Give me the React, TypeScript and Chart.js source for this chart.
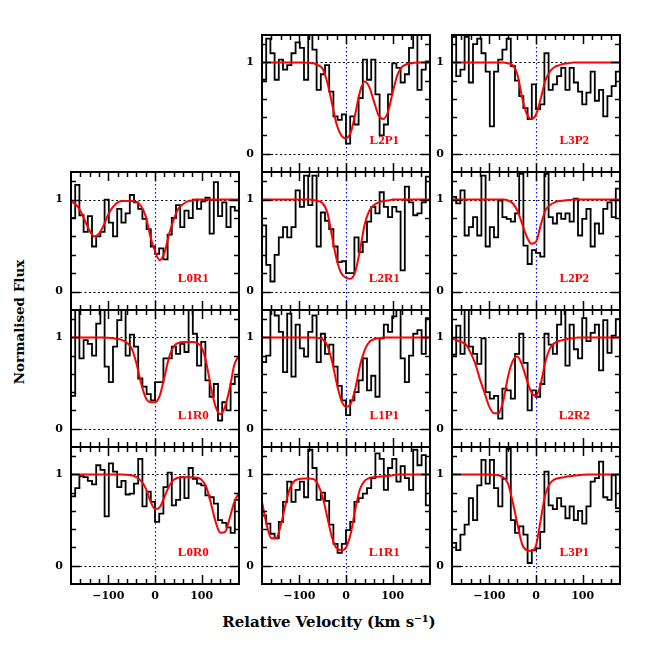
import React, { useEffect, useRef } from 'react';
import { Chart, registerables } from 'chart.js';
Chart.register(...registerables);

// ---------- axes ----------
const VELOCITY_MIN = -180;
const VELOCITY_MAX = 180;
const FLUX_MIN = -0.2;
const FLUX_MAX = 1.3;
const BIN_WIDTH = 9;
const MODEL_STEP = 10;
const X_TICK_LABELS = [-100, 0, 100];
const Y_TICK_LABELS = [0, 1];
const X_MINOR_TICKS = [-160, -140, -120, -80, -60, -40, -20, 20, 40, 60, 80, 120, 140, 160];
const Y_MINOR_TICKS = [0.2, 0.4, 0.6, 0.8, 1.2];
const REFERENCE_FLUX = [0, 1];
const CENTRE_VELOCITY = 0;
const LABEL_VELOCITY = 82;
const LABEL_FLUX = 0.14;

// ---------- data: observed flux (bins of 9 km/s from -180) and model (every 10 km/s from -180) ----------
const L0R1_FLUX = [0.80, 1.16, 0.83, 0.65, 0.82, 0.49, 0.60, 0.65, 1.00, 0.75,
  0.60, 0.90, 0.75, 0.85, 1.05, 0.97, 0.90, 0.79, 0.68, 0.49,
  0.41, 0.47, 0.35, 0.62, 0.80, 0.94, 0.70, 0.88, 0.80, 1.00,
  0.90, 0.98, 1.02, 0.63, 1.19, 0.82, 0.97, 0.70, 0.92, 0.88];
const L0R1_MODEL = [0.98, 0.95, 0.88, 0.77, 0.66, 0.60, 0.63, 0.72, 0.84, 0.92,
  0.97, 0.985, 0.985, 0.985, 0.975, 0.93, 0.82, 0.60, 0.44, 0.34,
  0.42, 0.62, 0.78, 0.90, 0.95, 0.98, 0.99, 1.0, 1.0, 1.0,
  1.0, 1.0, 1.0, 1.0, 1.0, 1.0, 1.0];

const L1R0_FLUX = [0.36, 1.30, 0.77, 0.97, 0.93, 0.80, 1.15, 1.30, 0.68, 0.51,
  0.90, 1.19, 1.30, 0.80, 1.03, 0.90, 0.55, 0.46, 0.38, 0.31,
  0.51, 0.51, 0.77, 0.77, 0.90, 0.82, 0.93, 0.84, 1.30, 1.04,
  0.69, 0.95, 0.53, 0.35, 0.49, 0.09, 0.29, 0.20, 0.49, 0.57];
const L1R0_MODEL = [1, 1, 1, 1, 1, 1, 1, 1, 0.995, 0.99,
  0.985, 0.97, 0.94, 0.88, 0.72, 0.50, 0.34, 0.29, 0.29, 0.36,
  0.56, 0.78, 0.90, 0.94, 0.95, 0.95, 0.95, 0.94, 0.89, 0.72,
  0.45, 0.24, 0.16, 0.24, 0.44, 0.70, 0.80];

const L0R0_FLUX = [0.76, 0.85, 0.98, 0.97, 0.93, 0.89, 1.10, 1.05, 0.54, 1.12,
  1.03, 0.86, 0.93, 0.78, 0.79, 0.90, 1.17, 0.65, 0.81, 0.70,
  0.48, 0.57, 0.86, 1.02, 0.66, 0.72, 0.97, 0.74, 1.07, 0.95,
  0.90, 0.88, 0.77, 0.75, 0.68, 0.50, 0.47, 0.42, 0.36, 0.72];
const L0R0_MODEL = [1, 1, 1, 1, 1, 1, 1, 1, 1, 1,
  1, 1, 0.995, 0.99, 0.97, 0.93, 0.85, 0.71, 0.62, 0.64,
  0.75, 0.87, 0.94, 0.965, 0.97, 0.97, 0.97, 0.965, 0.94, 0.86,
  0.68, 0.48, 0.36, 0.37, 0.52, 0.70, 0.80];

const L2P1_FLUX = [0.81, 1.26, 1.10, 0.81, 1.03, 0.92, 0.97, 1.10, 1.22, 1.16,
  0.81, 1.30, 1.14, 0.70, 0.87, 0.97, 0.68, 0.41, 0.37, 0.43,
  0.11, 0.41, 0.32, 0.61, 1.03, 0.81, 1.03, 0.65, 0.20, 0.32,
  0.65, 0.99, 0.94, 0.78, 0.87, 1.16, 1.30, 0.70, 0.92, 1.01];
const L2P1_MODEL = [1, 1, 1, 1, 1, 1, 1, 1, 1, 1,
  0.995, 0.99, 0.97, 0.93, 0.78, 0.55, 0.32, 0.20, 0.17, 0.23,
  0.44, 0.68, 0.79, 0.73, 0.57, 0.42, 0.38, 0.46, 0.67, 0.86,
  0.95, 0.98, 0.99, 1, 1, 1, 1];

const L2R1_FLUX = [0.72, 0.29, 0.11, 0.40, 0.59, 0.70, 0.59, 0.70, 1.10, 0.92,
  1.26, 0.94, 1.26, 0.49, 0.86, 0.77, 0.68, 0.49, 0.32, 0.33,
  0.20, 0.20, 0.59, 0.43, 0.54, 0.76, 0.92, 0.85, 1.08, 0.92,
  0.81, 0.92, 0.87, 0.23, 1.14, 0.97, 0.83, 0.85, 0.97, 1.25];
const L2R1_MODEL = [1, 1, 1, 1, 1, 1, 1, 1, 1, 1,
  1, 0.995, 0.985, 0.96, 0.86, 0.60, 0.35, 0.20, 0.15, 0.14,
  0.22, 0.45, 0.73, 0.88, 0.94, 0.97, 0.985, 0.99, 1, 1,
  1, 1, 1, 1, 1, 1, 1];

const L1P1_FLUX = [0.73, 0.80, 1.30, 1.24, 1.06, 0.62, 1.26, 0.57, 1.14, 0.88,
  0.79, 1.06, 1.24, 0.73, 1.04, 0.82, 0.92, 0.68, 0.47, 0.31,
  0.15, 0.31, 0.40, 0.53, 0.77, 0.42, 0.58, 0.35, 0.99, 1.14,
  1.06, 1.23, 1.30, 0.77, 0.51, 0.80, 1.04, 1.08, 0.82, 1.21];
const L1P1_MODEL = [1, 1, 1, 1, 1, 1, 1, 1, 1, 1,
  1, 1, 0.995, 0.98, 0.91, 0.74, 0.50, 0.31, 0.24, 0.27,
  0.44, 0.69, 0.86, 0.95, 0.98, 0.99, 1, 1, 1, 1,
  1, 1, 1, 1, 1, 1, 1];

const L1R1_FLUX = [0.55, 0.46, 0.35, 0.30, 0.48, 0.70, 0.92, 0.70, 0.83, 0.92,
  0.75, 1.27, 1.07, 0.72, 0.80, 0.71, 0.45, 0.24, 0.14, 0.24,
  0.39, 0.48, 0.70, 0.74, 0.79, 0.85, 0.96, 1.23, 1.17, 0.83,
  1.07, 1.17, 0.92, 1.09, 0.96, 0.83, 1.27, 1.10, 1.21, 0.66];
const L1R1_MODEL = [0.70, 0.45, 0.30, 0.30, 0.44, 0.66, 0.85, 0.93, 0.95, 0.955,
  0.955, 0.95, 0.89, 0.75, 0.53, 0.31, 0.19, 0.17, 0.20, 0.35,
  0.62, 0.84, 0.93, 0.96, 0.97, 0.975, 0.98, 0.985, 0.99, 1,
  1, 1, 1, 1, 1, 1, 1];

const L3P2_FLUX = [1.28, 0.85, 0.92, 1.28, 0.78, 1.20, 1.26, 1.10, 0.90, 0.30,
  0.90, 1.03, 1.14, 1.26, 0.96, 0.80, 0.63, 0.50, 0.38, 0.76,
  0.49, 0.54, 1.10, 0.70, 0.76, 0.85, 0.94, 0.70, 0.94, 0.78,
  0.68, 0.54, 0.67, 0.90, 0.58, 0.70, 0.41, 0.63, 0.74, 0.90];
const L3P2_MODEL = [1, 1, 1, 1, 1, 1, 1, 1, 1, 1,
  1, 1, 0.99, 0.97, 0.87, 0.62, 0.44, 0.38, 0.43, 0.60,
  0.80, 0.90, 0.95, 0.97, 0.985, 0.99, 1, 1, 1, 1,
  1, 1, 1, 1, 1, 1, 1];

const L2P2_FLUX = [1.03, 0.96, 1.10, 0.61, 0.70, 0.81, 0.61, 1.26, 0.49, 0.70,
  0.59, 0.99, 0.81, 0.79, 0.76, 0.85, 1.28, 0.50, 0.30, 0.45,
  0.42, 0.38, 1.28, 0.81, 0.74, 0.85, 0.79, 0.85, 0.76, 1.01,
  0.61, 0.79, 0.90, 0.49, 0.74, 0.63, 0.90, 0.97, 0.81, 1.12];
const L2P2_MODEL = [1, 1, 1, 1, 1, 1, 1, 1, 1, 1,
  1, 1, 0.99, 0.96, 0.88, 0.74, 0.60, 0.52, 0.54, 0.72,
  0.88, 0.94, 0.97, 0.985, 0.99, 0.995, 1, 1, 1, 1,
  1, 1, 1, 1, 1, 1, 1];

const L2R2_FLUX = [0.81, 1.13, 0.82, 1.30, 0.90, 0.82, 0.71, 0.99, 0.40, 0.33,
  0.36, 0.11, 0.44, 0.42, 0.33, 0.82, 1.04, 0.72, 0.20, 0.42,
  0.35, 0.49, 1.04, 0.92, 0.82, 1.14, 1.30, 0.69, 1.14, 0.87,
  0.77, 1.21, 0.96, 1.05, 1.14, 0.64, 1.19, 0.83, 1.02, 1.20];
const L2R2_MODEL = [0.99, 0.97, 0.95, 0.92, 0.83, 0.71, 0.54, 0.39, 0.24, 0.17,
  0.17, 0.31, 0.57, 0.74, 0.79, 0.70, 0.54, 0.40, 0.36, 0.49,
  0.73, 0.88, 0.94, 0.96, 0.975, 0.985, 0.99, 1, 1, 1,
  1, 1, 1, 1, 1, 1, 1];

const L3P1_FLUX = [0.25, 0.17, 0.34, 0.45, 0.74, 0.50, 0.88, 1.16, 0.90, 1.16,
  0.85, 0.65, 0.95, 1.28, 0.50, 0.36, 0.43, 0.34, 0.03, 0.17,
  0.19, 0.37, 1.03, 0.66, 0.62, 0.74, 0.65, 0.52, 0.65, 0.50,
  0.60, 0.46, 0.65, 0.92, 0.96, 1.14, 0.75, 0.72, 0.99, 0.63];
const L3P1_MODEL = [1, 1, 1, 1, 1, 1, 1, 1, 1, 0.995,
  0.99, 0.965, 0.90, 0.70, 0.46, 0.24, 0.17, 0.16, 0.22, 0.50,
  0.78, 0.90, 0.945, 0.96, 0.97, 0.98, 0.985, 0.99, 0.995, 1,
  1, 1, 1, 1, 1, 1, 1];

const PANEL_NAMES = ['L2P1', 'L3P2', 'L0R1', 'L2R1', 'L2P2', 'L1R0', 'L1P1', 'L2R2', 'L0R0', 'L1R1', 'L3P1'];
const PANEL_FLUX = [L2P1_FLUX, L3P2_FLUX, L0R1_FLUX, L2R1_FLUX, L2P2_FLUX, L1R0_FLUX, L1P1_FLUX, L2R2_FLUX, L0R0_FLUX, L1R1_FLUX, L3P1_FLUX];
const PANEL_MODEL = [L2P1_MODEL, L3P2_MODEL, L0R1_MODEL, L2R1_MODEL, L2P2_MODEL, L1R0_MODEL, L1P1_MODEL, L2R2_MODEL, L0R0_MODEL, L1R1_MODEL, L3P1_MODEL];

// ---------- layout (page pixels) ----------
const GRID = [
  [1, 0], [2, 0],
  [0, 1], [1, 1], [2, 1],
  [0, 2], [1, 2], [2, 2],
  [0, 3], [1, 3], [2, 3],
];
const COL_LEFT = [71, 262, 452];
const ROW_TOP = [35, 172, 310, 447];
const ROW_H = [137, 138, 137, 137];
const PANEL_W = 168;
const AXIS_W = 30;
const PAD = 3;
const X_AXIS_H = 26;
const FONT = "'DejaVu Serif', serif";

const fmt = (v: number) => (v < 0 ? '\u2212' + Math.abs(v) : String(v));

function makeDecor(name: string) {
  return {
    id: 'decor',
    beforeDatasetsDraw(chart: any) {
      const { ctx, chartArea: a } = chart;
      const x = chart.scales.x;
      const y = chart.scales.y;
      ctx.save();
      ctx.lineWidth = 1.2;
      ctx.strokeStyle = '#000';
      ctx.setLineDash([2, 2.5]);
      REFERENCE_FLUX.forEach((v) => {
        const py = Math.round(y.getPixelForValue(v)) + 0.5;
        ctx.beginPath();
        ctx.moveTo(a.left, py);
        ctx.lineTo(a.right, py);
        ctx.stroke();
      });
      ctx.strokeStyle = '#0000ff';
      ctx.setLineDash([1.5, 2.5]);
      const px = Math.round(x.getPixelForValue(CENTRE_VELOCITY)) + 0.5;
      ctx.beginPath();
      ctx.moveTo(px, a.top);
      ctx.lineTo(px, a.bottom);
      ctx.stroke();
      ctx.restore();
    },
    afterDatasetsDraw(chart: any) {
      const { ctx, chartArea: a } = chart;
      const x = chart.scales.x;
      const y = chart.scales.y;
      ctx.save();
      ctx.strokeStyle = '#000';
      ctx.lineWidth = 1.5;
      const xTick = (v: number, len: number) => {
        const px = Math.round(x.getPixelForValue(v)) + 0.5;
        ctx.beginPath();
        ctx.moveTo(px, a.bottom);
        ctx.lineTo(px, a.bottom - len);
        ctx.moveTo(px, a.top);
        ctx.lineTo(px, a.top + len);
        ctx.stroke();
      };
      const yTick = (v: number, len: number) => {
        const py = Math.round(y.getPixelForValue(v)) + 0.5;
        ctx.beginPath();
        ctx.moveTo(a.left, py);
        ctx.lineTo(a.left + len, py);
        ctx.moveTo(a.right, py);
        ctx.lineTo(a.right - len, py);
        ctx.stroke();
      };
      X_MINOR_TICKS.forEach((v) => xTick(v, 5));
      X_TICK_LABELS.forEach((v) => xTick(v, 9));
      Y_MINOR_TICKS.forEach((v) => yTick(v, 5));
      Y_TICK_LABELS.forEach((v) => yTick(v, 9));
      ctx.lineWidth = 2;
      ctx.strokeRect(a.left, a.top, a.right - a.left, a.bottom - a.top);
      ctx.fillStyle = '#ff0000';
      ctx.font = "bold 13px 'Liberation Serif', serif";
      ctx.textAlign = 'center';
      ctx.textBaseline = 'middle';
      ctx.fillText(name, x.getPixelForValue(LABEL_VELOCITY), y.getPixelForValue(LABEL_FLUX));
      ctx.restore();
    },
  };
}

function Panel({ index }: { index: number }) {
  const ref = useRef<HTMLCanvasElement>(null);
  const [col, row] = GRID[index];
  const bottom = row === 3;
  const width = AXIS_W + PANEL_W + PAD;
  const height = PAD + ROW_H[row] + (bottom ? X_AXIS_H : PAD);

  useEffect(() => {
    const flux = PANEL_FLUX[index];
    const model = PANEL_MODEL[index];
    const hist = flux.map((f, i) => ({ x: VELOCITY_MIN + i * BIN_WIDTH, y: f }));
    hist.push({ x: VELOCITY_MAX, y: flux[flux.length - 1] });
    const fit = model.map((f, i) => ({ x: VELOCITY_MIN + i * MODEL_STEP, y: f }));
    const chart = new Chart(ref.current as HTMLCanvasElement, {
      type: 'line',
      data: {
        datasets: [
          { data: fit, borderColor: '#ff0000', borderWidth: 2, pointRadius: 0, cubicInterpolationMode: 'monotone', fill: false },
          { data: hist, borderColor: '#000000', borderWidth: 1.8, pointRadius: 0, stepped: 'before', fill: false },
        ],
      } as any,
      options: {
        animation: false,
        responsive: false,
        events: [],
        layout: { padding: { top: PAD, right: PAD, bottom: bottom ? 0 : PAD, left: 0 } },
        plugins: { legend: { display: false }, tooltip: { enabled: false } },
        scales: {
          x: {
            type: 'linear',
            min: VELOCITY_MIN,
            max: VELOCITY_MAX,
            grid: { display: false, drawTicks: false },
            border: { display: false },
            ticks: {
              display: bottom,
              padding: 6,
              autoSkip: false,
              maxRotation: 0,
              color: '#000',
              font: { family: FONT, size: 11, weight: 'bold' },
              callback: (v: any) => fmt(Number(v)),
            },
            afterBuildTicks: (s: any) => { s.ticks = X_TICK_LABELS.map((v) => ({ value: v })); },
            afterFit: (s: any) => {
              s.height = bottom ? X_AXIS_H : 0;
              s.paddingLeft = 0; s.paddingRight = 0; s.paddingTop = 0; s.paddingBottom = 0;
            },
          },
          y: {
            type: 'linear',
            min: FLUX_MIN,
            max: FLUX_MAX,
            grid: { display: false, drawTicks: false },
            border: { display: false },
            ticks: {
              padding: 8,
              autoSkip: false,
              color: '#000',
              font: { family: FONT, size: 11, weight: 'bold' },
              callback: (v: any) => fmt(Number(v)),
            },
            afterBuildTicks: (s: any) => { s.ticks = Y_TICK_LABELS.map((v) => ({ value: v })); },
            afterFit: (s: any) => {
              s.width = AXIS_W;
              s.paddingLeft = 0; s.paddingRight = 0; s.paddingTop = 0; s.paddingBottom = 0;
            },
          },
        },
      } as any,
      plugins: [makeDecor(PANEL_NAMES[index])],
    });
    return () => chart.destroy();
  }, [index]);

  return (
    <canvas
      ref={ref}
      width={width}
      height={height}
      style={{ position: 'absolute', left: COL_LEFT[col] - AXIS_W, top: ROW_TOP[row] - PAD, width, height }}
    />
  );
}

export default function App() {
  return (
    <div style={{ position: 'absolute', left: 0, top: 0, width: 654, height: 654, background: '#fff', fontFamily: FONT, color: '#000' }}>
      {PANEL_NAMES.map((_, i) => <Panel key={i} index={i} />)}
      <div style={{ position: 'absolute', left: 179, width: 300, top: 613, textAlign: 'center', fontSize: 15, fontWeight: 'bold', lineHeight: '18px', whiteSpace: 'nowrap' }}>
        Relative Velocity (km s⁻¹)
      </div>
      <div style={{ position: 'absolute', left: 19, top: 322, transform: 'translate(-50%, -50%) rotate(-90deg)', fontSize: 13.5, fontWeight: 'bold', lineHeight: '18px', whiteSpace: 'nowrap' }}>
        Normalised Flux
      </div>
    </div>
  );
}
